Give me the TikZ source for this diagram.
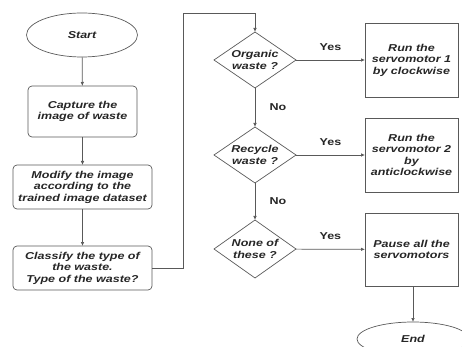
\documentclass[tikz,border=0pt]{standalone}
\usepackage{fontspec}
\setmainfont{Liberation Sans}
\newfontfamily\lab[FakeStretch=1.25]{Liberation Sans}
\usetikzlibrary{shapes.geometric,arrows.meta}
\definecolor{ln}{gray}{0.35}
\tikzset{
  every node/.style={inner sep=0pt, outer sep=0pt},
  txt/.style={font=\lab\fontsize{10}{11.5}\selectfont\bfseries\itshape, align=center, text=black!85},
  term/.style={txt, ellipse, draw=ln, line width=0.7pt},
  proc/.style={txt, rectangle, rounded corners=4pt, draw=ln, line width=0.7pt},
  act/.style={txt, rectangle, draw=ln, line width=0.7pt},
  dec/.style={txt, diamond, draw=ln, line width=0.7pt, aspect=1.46},
  lbl/.style={font=\lab\fontsize{10}{11.5}\selectfont\bfseries, text=black!85},
  conn/.style={draw=ln, line width=0.7pt, -{Latex[length=4pt,width=3.5pt]}}
}
\begin{document}
\begin{tikzpicture}[x=1pt,y=-1pt]
\useasboundingbox (0,0) rectangle (462,347);
\begin{scope}
\clip (0,0) rectangle (462,347);
\node[term, minimum width=111pt, minimum height=44pt] (start) at (82,35) {Start};
\node[proc, minimum width=109pt, minimum height=51pt] (cap) at (82.5,111.5) {Capture the\\image of waste};
\node[proc, minimum width=139pt, minimum height=44pt] (mod) at (82.5,187) {Modify the image\\according to the\\trained image dataset};
\node[proc, minimum width=139pt, minimum height=44pt] (cls) at (82.5,268) {Classify the type of\\the waste.\\Type of the waste?};
\node[dec, minimum width=82pt, minimum height=56pt] (org) at (255,60) {Organic\\waste ?};
\node[dec, minimum width=82pt, minimum height=56pt] (rec) at (255,155) {Recycle\\waste ?};
\node[dec, minimum width=82pt, minimum height=58pt] (non) at (255,249) {None of\\these ?};
\node[act, minimum width=93pt, minimum height=74pt] (b1) at (411.5,60) {Run the\\servomotor 1\\by clockwise};
\node[act, minimum width=93pt, minimum height=74pt] (b2) at (411.5,155) {Run the\\servomotor 2\\by\\anticlockwise};
\node[act, minimum width=93pt, minimum height=73pt] (b3) at (411.5,249.5) {Pause all the\\servomotors};
\node[term, minimum width=112pt, minimum height=34pt] (end) at (413,339) {End};

\coordinate (c1) at (183,268);
\coordinate (c2) at (183,13);
\coordinate (c3) at (255,13);

\draw[conn] (start) -- (cap);
\draw[conn] (cap) -- (mod);
\draw[conn] (mod) -- (cls);
\draw[conn] (cls.east) -- (c1) -- (c2) -- (c3) -- (org.north);
\draw[conn] (org) -- (b1) node[lbl, pos=0.5, yshift=13pt] {Yes};
\draw[conn] (rec) -- (b2) node[lbl, pos=0.5, yshift=13pt] {Yes};
\draw[conn] (non) -- (b3) node[lbl, pos=0.5, yshift=13pt] {Yes};
\draw[conn] (org) -- (rec) node[lbl, pos=0.5, xshift=23pt] {No};
\draw[conn] (rec) -- (non) node[lbl, pos=0.5, xshift=23pt] {No};
\draw[conn] (b3.south -| end) -- (end);
\end{scope}
\end{tikzpicture}
\end{document}
